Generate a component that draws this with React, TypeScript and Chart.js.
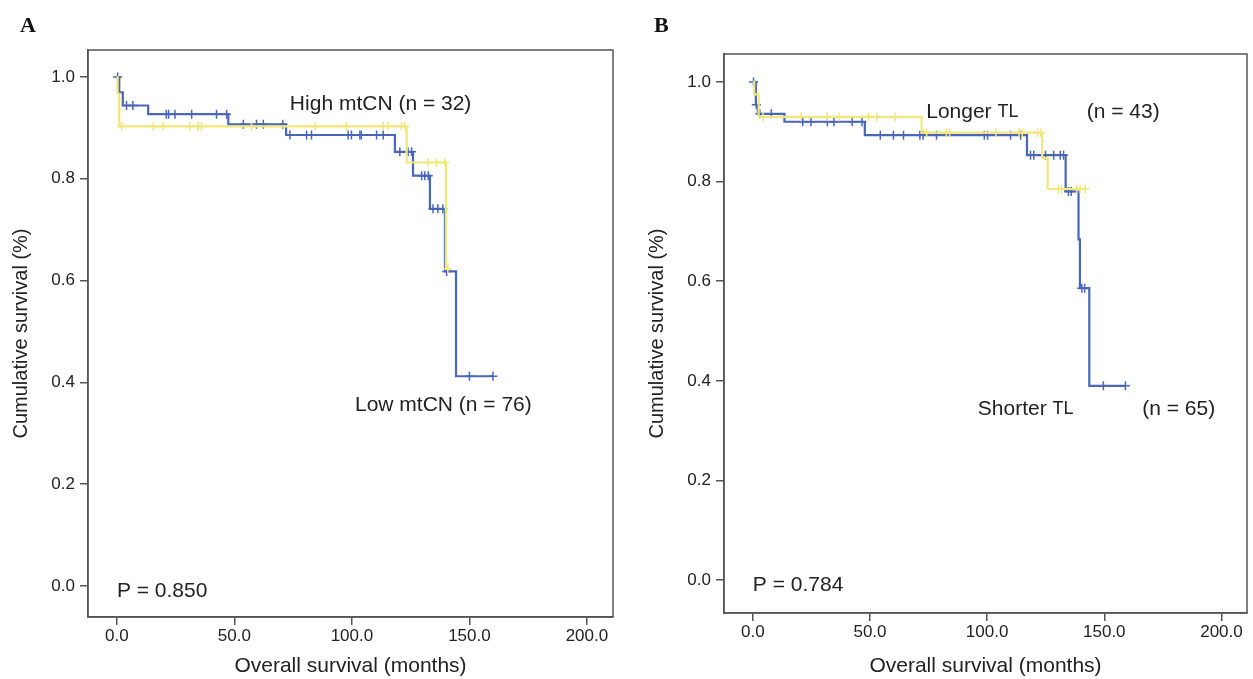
import React, { useEffect, useRef } from 'react';
import { Chart, registerables } from 'chart.js';

Chart.register(...registerables);

// ---------- data ----------
const xTickValues = [0, 50, 100, 150, 200];
const yTickValues = [0, 0.2, 0.4, 0.6, 0.8, 1.0];

// Panel A (mtCN)
const aBlueTimes = [0, 1.0, 2.5, 13.3, 47.4, 72.0, 118.3, 126.0, 133.2, 139.6, 144.3, 160.0];
const aBlueSurv = [1.0, 0.970, 0.944, 0.927, 0.907, 0.886, 0.853, 0.806, 0.741, 0.618, 0.412, 0.412];
const aBlueCensor = [0.3, 4.1, 6.8, 21.0, 22.0, 24.7, 31.8, 42.4, 46.7, 53.8, 59.4, 62.3, 70.6, 73.6, 80.7, 82.8, 98.4, 99.8, 103.4, 104.0, 110.5, 113.3, 120.4, 123.9, 125.4, 129.7, 131.0, 132.5, 134.5, 136.6, 138.7, 140.3, 150.0, 160.0];
const aYellowTimes = [0, 0.3, 1.0, 123.3, 140.0, 141.0];
const aYellowSurv = [1.0, 0.967, 0.903, 0.832, 0.623, 0.623];
const aYellowCensor = [2.0, 15.5, 19.7, 31.0, 34.6, 36.0, 57.3, 84.3, 97.7, 113.3, 115.4, 121.1, 122.5, 132.3, 136.0, 139.6, 140.8];

// Panel B (TL)
const bBlueTimes = [0, 1.3, 2.2, 13.5, 47.8, 117.0, 133.5, 139.0, 139.6, 143.6, 159.0];
const bBlueSurv = [1.0, 0.954, 0.936, 0.920, 0.893, 0.853, 0.780, 0.684, 0.586, 0.390, 0.390];
const bBlueCensor = [0.3, 1.5, 3.0, 7.9, 21.3, 24.8, 31.8, 34.6, 42.4, 46.6, 54.4, 60.0, 64.3, 71.3, 72.7, 78.4, 98.8, 100.2, 110.0, 114.3, 118.5, 119.9, 124.9, 128.4, 131.2, 132.6, 134.7, 135.9, 140.4, 141.6, 149.6, 159.0];
const bYellowTimes = [0, 0.6, 2.5, 72.0, 123.5, 125.8, 141.8];
const bYellowSurv = [1.0, 0.975, 0.930, 0.898, 0.847, 0.785, 0.785];
const bYellowCensor = [4.4, 20.6, 31.8, 36.8, 49.4, 53.0, 60.7, 74.2, 82.6, 84.0, 103.7, 113.6, 115.0, 121.4, 122.8, 130.4, 131.8, 138.3, 139.7, 141.8];

const aLabels = [
  { segs: [['High mtCN (n = 32)', 21]], t: 73.6, s: 0.947 },
  { segs: [['Low mtCN (n = 76)', 21]], t: 101.3, s: 0.355 },
  { segs: [['P = 0.850', 21]], t: 0, s: -0.01 },
];
const bLabels = [
  { segs: [['Longer ', 21], ['TL', 18]], t: 74, s: 0.94 },
  { segs: [['(n = 43)', 21]], t: 142.5, s: 0.94 },
  { segs: [['Shorter ', 21], ['TL', 18]], t: 96, s: 0.343 },
  { segs: [['(n = 65)', 21]], t: 166.2, s: 0.343 },
  { segs: [['P = 0.784', 21]], t: 0, s: -0.01 },
];

const BLUE = '#4a66b9';
const YELLOW = '#f1e77c';
const AXIS = '#555555';
const TEXT = '#222222';
const FONT = '"Liberation Sans", Arial, sans-serif';

// ---------- helpers ----------
function steps(times: number[], surv: number[]) {
  return times.map((t, i) => ({ x: t, y: surv[i] }));
}
function survAt(times: number[], surv: number[], t: number) {
  let v = surv[0];
  for (let i = 0; i < times.length; i++) if (times[i] <= t) v = surv[i];
  return v;
}
function censors(times: number[], surv: number[], cs: number[]) {
  return cs.map((t) => ({ x: t, y: survAt(times, surv, t) }));
}

type PanelCfg = {
  blueT: number[]; blueS: number[]; blueC: number[];
  yelT: number[]; yelS: number[]; yelC: number[];
  labels: { segs: (string | number)[][]; t: number; s: number }[];
  width: number; height: number;
  areaLeft: number; areaRight: number; areaTop: number; areaBottom: number;
  xMin: number; xMax: number; yMin: number; yMax: number;
};

function buildConfig(p: PanelCfg): any {
  const padLeft = 9;
  const padBottom = 0;
  const boxPlugin = {
    id: 'box',
    afterDraw(chart: any) {
      const { ctx, chartArea: a } = chart;
      ctx.save();
      ctx.strokeStyle = AXIS;
      ctx.lineWidth = 1.5;
      ctx.strokeRect(a.left, a.top, a.right - a.left, a.bottom - a.top);
      ctx.restore();
    },
  };
  const textPlugin = {
    id: 'texts',
    afterDraw(chart: any) {
      const { ctx } = chart;
      const xs = chart.scales.x;
      const ys = chart.scales.y;
      ctx.save();
      ctx.fillStyle = TEXT;
      ctx.textBaseline = 'middle';
      ctx.textAlign = 'left';
      p.labels.forEach((l) => {
        let x = xs.getPixelForValue(l.t);
        const y = ys.getPixelForValue(l.s);
        l.segs.forEach(([str, size]) => {
          ctx.font = `${size}px ${FONT}`;
          ctx.fillText(String(str), x, y);
          x += ctx.measureText(String(str)).width;
        });
      });
      ctx.restore();
    },
  };
  const censorStyle = (color: string) => ({
    showLine: false,
    pointStyle: 'cross',
    pointRadius: 4.5,
    pointBorderWidth: 1.5,
    borderColor: color,
    pointBorderColor: color,
    backgroundColor: color,
  });
  return {
    type: 'line',
    data: {
      datasets: [
        { data: steps(p.yelT, p.yelS), stepped: 'before', borderColor: YELLOW, borderWidth: 2.2, pointRadius: 0, fill: false },
        { data: censors(p.yelT, p.yelS, p.yelC), ...censorStyle(YELLOW) },
        { data: steps(p.blueT, p.blueS), stepped: 'before', borderColor: BLUE, borderWidth: 2.2, pointRadius: 0, fill: false },
        { data: censors(p.blueT, p.blueS, p.blueC), ...censorStyle(BLUE) },
      ],
    },
    options: {
      animation: false,
      responsive: false,
      maintainAspectRatio: false,
      events: [],
      layout: {
        padding: { left: padLeft, right: p.width - p.areaRight, top: p.areaTop, bottom: padBottom },
      },
      plugins: { legend: { display: false }, tooltip: { enabled: false } },
      scales: {
        x: {
          type: 'linear',
          min: p.xMin,
          max: p.xMax,
          afterBuildTicks: (s: any) => { s.ticks = xTickValues.map((v) => ({ value: v })); },
          afterFit: (s: any) => { s.height = p.height - p.areaBottom - padBottom; },
          ticks: {
            callback: (v: any) => Number(v).toFixed(1),
            font: { family: FONT, size: 17 },
            color: TEXT,
            padding: 1,
            maxRotation: 0,
            autoSkip: false,
          },
          grid: { drawOnChartArea: false, drawTicks: true, tickLength: 8, color: AXIS, lineWidth: 1.5 },
          border: { display: true, color: AXIS, width: 1.5 },
          title: {
            display: true,
            text: 'Overall survival (months)',
            font: { family: FONT, size: 21 },
            color: TEXT,
            padding: { top: 0, bottom: 0 },
          },
        },
        y: {
          type: 'linear',
          min: p.yMin,
          max: p.yMax,
          afterBuildTicks: (s: any) => { s.ticks = yTickValues.map((v) => ({ value: v })); },
          afterFit: (s: any) => { s.width = p.areaLeft - padLeft; },
          ticks: {
            callback: (v: any) => Number(v).toFixed(1),
            font: { family: FONT, size: 17 },
            color: TEXT,
            padding: 5,
            autoSkip: false,
          },
          grid: { drawOnChartArea: false, drawTicks: true, tickLength: 8, color: AXIS, lineWidth: 1.5 },
          border: { display: true, color: AXIS, width: 1.5 },
          title: {
            display: true,
            text: 'Cumulative survival (%)',
            font: { family: FONT, size: 20 },
            color: TEXT,
            padding: { top: 0, bottom: 0 },
          },
        },
      },
    },
    plugins: [boxPlugin, textPlugin],
  };
}

function Panel({ cfg, left }: { cfg: PanelCfg; left: number }) {
  const ref = useRef<HTMLCanvasElement | null>(null);
  useEffect(() => {
    if (!ref.current) return;
    const chart = new Chart(ref.current, buildConfig(cfg));
    return () => chart.destroy();
  }, []);
  return (
    <canvas
      ref={ref}
      width={cfg.width}
      height={cfg.height}
      style={{ position: 'absolute', left, top: 0, width: cfg.width, height: cfg.height }}
    />
  );
}

const panelA: PanelCfg = {
  blueT: aBlueTimes, blueS: aBlueSurv, blueC: aBlueCensor,
  yelT: aYellowTimes, yelS: aYellowSurv, yelC: aYellowCensor,
  labels: aLabels as any,
  width: 636, height: 679,
  areaLeft: 88, areaRight: 613, areaTop: 50, areaBottom: 617,
  xMin: -12.3, xMax: 211.1, yMin: -0.061, yMax: 1.053,
};
const panelB: PanelCfg = {
  blueT: bBlueTimes, blueS: bBlueSurv, blueC: bBlueCensor,
  yelT: bYellowTimes, yelS: bYellowSurv, yelC: bYellowCensor,
  labels: bLabels as any,
  width: 617, height: 679,
  areaLeft: 88, areaRight: 616, areaTop: 54, areaBottom: 613,
  xMin: -12.3, xMax: 210.9, yMin: -0.066, yMax: 1.056,
};

export default function App() {
  useEffect(() => {
    document.body.style.margin = '0';
    document.body.style.background = '#ffffff';
  }, []);
  const letter: React.CSSProperties = {
    position: 'absolute',
    top: 12,
    fontFamily: '"Liberation Serif", "Times New Roman", serif',
    fontWeight: 'bold',
    fontSize: 22,
    color: '#111',
    lineHeight: '26px',
  };
  return (
    <div style={{ position: 'fixed', left: 0, top: 0, width: 1253, height: 679, background: '#fff' }}>
      <Panel cfg={panelA} left={0} />
      <Panel cfg={panelB} left={636} />
      <div style={{ ...letter, left: 20 }}>A</div>
      <div style={{ ...letter, left: 654 }}>B</div>
    </div>
  );
}
